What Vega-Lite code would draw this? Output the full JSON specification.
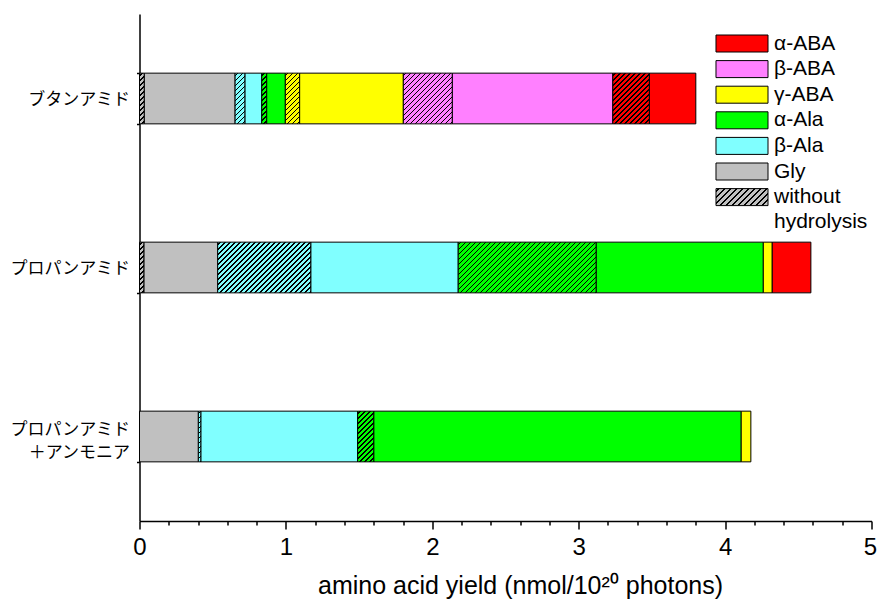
{
  "$schema": "https://vega.github.io/schema/vega-lite/v6.json",
  "width": 732,
  "height": 507,
  "autosize": {"type": "none"},
  "padding": {"left": 139.5, "top": 14, "right": 5.5, "bottom": 80},
  "background": "white",
  "params": [
    {"name": "hs", "value": [
      {"offset":0,"color":"transparent"},
      {"offset":0.010,"color":"transparent"},{"offset":0.010,"color":"#000"},{"offset":0.017,"color":"#000"},{"offset":0.017,"color":"transparent"},
      {"offset":0.035,"color":"transparent"},{"offset":0.035,"color":"#000"},{"offset":0.042,"color":"#000"},{"offset":0.042,"color":"transparent"},
      {"offset":0.060,"color":"transparent"},{"offset":0.060,"color":"#000"},{"offset":0.067,"color":"#000"},{"offset":0.067,"color":"transparent"},
      {"offset":0.085,"color":"transparent"},{"offset":0.085,"color":"#000"},{"offset":0.092,"color":"#000"},{"offset":0.092,"color":"transparent"},
      {"offset":0.110,"color":"transparent"},{"offset":0.110,"color":"#000"},{"offset":0.117,"color":"#000"},{"offset":0.117,"color":"transparent"},
      {"offset":0.135,"color":"transparent"},{"offset":0.135,"color":"#000"},{"offset":0.142,"color":"#000"},{"offset":0.142,"color":"transparent"},
      {"offset":0.160,"color":"transparent"},{"offset":0.160,"color":"#000"},{"offset":0.167,"color":"#000"},{"offset":0.167,"color":"transparent"},
      {"offset":0.185,"color":"transparent"},{"offset":0.185,"color":"#000"},{"offset":0.192,"color":"#000"},{"offset":0.192,"color":"transparent"},
      {"offset":0.210,"color":"transparent"},{"offset":0.210,"color":"#000"},{"offset":0.217,"color":"#000"},{"offset":0.217,"color":"transparent"},
      {"offset":0.235,"color":"transparent"},{"offset":0.235,"color":"#000"},{"offset":0.242,"color":"#000"},{"offset":0.242,"color":"transparent"},
      {"offset":0.260,"color":"transparent"},{"offset":0.260,"color":"#000"},{"offset":0.267,"color":"#000"},{"offset":0.267,"color":"transparent"},
      {"offset":0.285,"color":"transparent"},{"offset":0.285,"color":"#000"},{"offset":0.292,"color":"#000"},{"offset":0.292,"color":"transparent"},
      {"offset":0.310,"color":"transparent"},{"offset":0.310,"color":"#000"},{"offset":0.317,"color":"#000"},{"offset":0.317,"color":"transparent"},
      {"offset":0.335,"color":"transparent"},{"offset":0.335,"color":"#000"},{"offset":0.342,"color":"#000"},{"offset":0.342,"color":"transparent"},
      {"offset":0.360,"color":"transparent"},{"offset":0.360,"color":"#000"},{"offset":0.367,"color":"#000"},{"offset":0.367,"color":"transparent"},
      {"offset":0.385,"color":"transparent"},{"offset":0.385,"color":"#000"},{"offset":0.392,"color":"#000"},{"offset":0.392,"color":"transparent"},
      {"offset":0.410,"color":"transparent"},{"offset":0.410,"color":"#000"},{"offset":0.417,"color":"#000"},{"offset":0.417,"color":"transparent"},
      {"offset":0.435,"color":"transparent"},{"offset":0.435,"color":"#000"},{"offset":0.442,"color":"#000"},{"offset":0.442,"color":"transparent"},
      {"offset":0.460,"color":"transparent"},{"offset":0.460,"color":"#000"},{"offset":0.467,"color":"#000"},{"offset":0.467,"color":"transparent"},
      {"offset":0.485,"color":"transparent"},{"offset":0.485,"color":"#000"},{"offset":0.492,"color":"#000"},{"offset":0.492,"color":"transparent"},
      {"offset":0.510,"color":"transparent"},{"offset":0.510,"color":"#000"},{"offset":0.517,"color":"#000"},{"offset":0.517,"color":"transparent"},
      {"offset":0.535,"color":"transparent"},{"offset":0.535,"color":"#000"},{"offset":0.542,"color":"#000"},{"offset":0.542,"color":"transparent"},
      {"offset":0.560,"color":"transparent"},{"offset":0.560,"color":"#000"},{"offset":0.567,"color":"#000"},{"offset":0.567,"color":"transparent"},
      {"offset":0.585,"color":"transparent"},{"offset":0.585,"color":"#000"},{"offset":0.592,"color":"#000"},{"offset":0.592,"color":"transparent"},
      {"offset":0.610,"color":"transparent"},{"offset":0.610,"color":"#000"},{"offset":0.617,"color":"#000"},{"offset":0.617,"color":"transparent"},
      {"offset":0.635,"color":"transparent"},{"offset":0.635,"color":"#000"},{"offset":0.642,"color":"#000"},{"offset":0.642,"color":"transparent"},
      {"offset":0.660,"color":"transparent"},{"offset":0.660,"color":"#000"},{"offset":0.667,"color":"#000"},{"offset":0.667,"color":"transparent"},
      {"offset":0.685,"color":"transparent"},{"offset":0.685,"color":"#000"},{"offset":0.692,"color":"#000"},{"offset":0.692,"color":"transparent"},
      {"offset":0.710,"color":"transparent"},{"offset":0.710,"color":"#000"},{"offset":0.717,"color":"#000"},{"offset":0.717,"color":"transparent"},
      {"offset":0.735,"color":"transparent"},{"offset":0.735,"color":"#000"},{"offset":0.742,"color":"#000"},{"offset":0.742,"color":"transparent"},
      {"offset":0.760,"color":"transparent"},{"offset":0.760,"color":"#000"},{"offset":0.767,"color":"#000"},{"offset":0.767,"color":"transparent"},
      {"offset":0.785,"color":"transparent"},{"offset":0.785,"color":"#000"},{"offset":0.792,"color":"#000"},{"offset":0.792,"color":"transparent"},
      {"offset":0.810,"color":"transparent"},{"offset":0.810,"color":"#000"},{"offset":0.817,"color":"#000"},{"offset":0.817,"color":"transparent"},
      {"offset":0.835,"color":"transparent"},{"offset":0.835,"color":"#000"},{"offset":0.842,"color":"#000"},{"offset":0.842,"color":"transparent"},
      {"offset":0.860,"color":"transparent"},{"offset":0.860,"color":"#000"},{"offset":0.867,"color":"#000"},{"offset":0.867,"color":"transparent"},
      {"offset":0.885,"color":"transparent"},{"offset":0.885,"color":"#000"},{"offset":0.892,"color":"#000"},{"offset":0.892,"color":"transparent"},
      {"offset":0.910,"color":"transparent"},{"offset":0.910,"color":"#000"},{"offset":0.917,"color":"#000"},{"offset":0.917,"color":"transparent"},
      {"offset":0.935,"color":"transparent"},{"offset":0.935,"color":"#000"},{"offset":0.942,"color":"#000"},{"offset":0.942,"color":"transparent"},
      {"offset":0.960,"color":"transparent"},{"offset":0.960,"color":"#000"},{"offset":0.967,"color":"#000"},{"offset":0.967,"color":"transparent"},
      {"offset":0.985,"color":"transparent"},{"offset":0.985,"color":"#000"},{"offset":0.992,"color":"#000"},{"offset":0.992,"color":"transparent"},
      {"offset":1,"color":"transparent"}
    ]},
    {"name": "hsg", "value": [
      {"offset":0,"color":"#c0c0c0"},
      {"offset":0.030,"color":"#c0c0c0"},{"offset":0.030,"color":"#000"},{"offset":0.049,"color":"#000"},{"offset":0.049,"color":"#c0c0c0"},
      {"offset":0.113,"color":"#c0c0c0"},{"offset":0.113,"color":"#000"},{"offset":0.132,"color":"#000"},{"offset":0.132,"color":"#c0c0c0"},
      {"offset":0.197,"color":"#c0c0c0"},{"offset":0.197,"color":"#000"},{"offset":0.216,"color":"#000"},{"offset":0.216,"color":"#c0c0c0"},
      {"offset":0.280,"color":"#c0c0c0"},{"offset":0.280,"color":"#000"},{"offset":0.299,"color":"#000"},{"offset":0.299,"color":"#c0c0c0"},
      {"offset":0.363,"color":"#c0c0c0"},{"offset":0.363,"color":"#000"},{"offset":0.382,"color":"#000"},{"offset":0.382,"color":"#c0c0c0"},
      {"offset":0.447,"color":"#c0c0c0"},{"offset":0.447,"color":"#000"},{"offset":0.466,"color":"#000"},{"offset":0.466,"color":"#c0c0c0"},
      {"offset":0.530,"color":"#c0c0c0"},{"offset":0.530,"color":"#000"},{"offset":0.549,"color":"#000"},{"offset":0.549,"color":"#c0c0c0"},
      {"offset":0.613,"color":"#c0c0c0"},{"offset":0.613,"color":"#000"},{"offset":0.632,"color":"#000"},{"offset":0.632,"color":"#c0c0c0"},
      {"offset":0.697,"color":"#c0c0c0"},{"offset":0.697,"color":"#000"},{"offset":0.716,"color":"#000"},{"offset":0.716,"color":"#c0c0c0"},
      {"offset":0.780,"color":"#c0c0c0"},{"offset":0.780,"color":"#000"},{"offset":0.799,"color":"#000"},{"offset":0.799,"color":"#c0c0c0"},
      {"offset":0.863,"color":"#c0c0c0"},{"offset":0.863,"color":"#000"},{"offset":0.882,"color":"#000"},{"offset":0.882,"color":"#c0c0c0"},
      {"offset":0.947,"color":"#c0c0c0"},{"offset":0.947,"color":"#000"},{"offset":0.966,"color":"#000"},{"offset":0.966,"color":"#c0c0c0"},
      {"offset":1,"color":"#c0c0c0"}
    ]}
  ],
  "data": {"values": [
    {"sample":"ブタンアミド","amino":"Gly","hyd":"without","value":0.033,"ord":1},
    {"sample":"ブタンアミド","amino":"Gly","hyd":"with","value":0.62,"ord":2},
    {"sample":"ブタンアミド","amino":"β-Ala","hyd":"without","value":0.068,"ord":3},
    {"sample":"ブタンアミド","amino":"β-Ala","hyd":"with","value":0.114,"ord":4},
    {"sample":"ブタンアミド","amino":"α-Ala","hyd":"without","value":0.034,"ord":5},
    {"sample":"ブタンアミド","amino":"α-Ala","hyd":"with","value":0.127,"ord":6},
    {"sample":"ブタンアミド","amino":"γ-ABA","hyd":"without","value":0.098,"ord":7},
    {"sample":"ブタンアミド","amino":"γ-ABA","hyd":"with","value":0.708,"ord":8},
    {"sample":"ブタンアミド","amino":"β-ABA","hyd":"without","value":0.335,"ord":9},
    {"sample":"ブタンアミド","amino":"β-ABA","hyd":"with","value":1.096,"ord":10},
    {"sample":"ブタンアミド","amino":"α-ABA","hyd":"without","value":0.25,"ord":11},
    {"sample":"ブタンアミド","amino":"α-ABA","hyd":"with","value":0.317,"ord":12},
    {"sample":"プロパンアミド","amino":"Gly","hyd":"without","value":0.031,"ord":1},
    {"sample":"プロパンアミド","amino":"Gly","hyd":"with","value":0.503,"ord":2},
    {"sample":"プロパンアミド","amino":"β-Ala","hyd":"without","value":0.637,"ord":3},
    {"sample":"プロパンアミド","amino":"β-Ala","hyd":"with","value":1.006,"ord":4},
    {"sample":"プロパンアミド","amino":"α-Ala","hyd":"without","value":0.943,"ord":5},
    {"sample":"プロパンアミド","amino":"α-Ala","hyd":"with","value":1.141,"ord":6},
    {"sample":"プロパンアミド","amino":"γ-ABA","hyd":"with","value":0.061,"ord":8},
    {"sample":"プロパンアミド","amino":"α-ABA","hyd":"with","value":0.264,"ord":12},
    {"sample":"プロパンアミド＋アンモニア","amino":"Gly","hyd":"with","value":0.402,"ord":2},
    {"sample":"プロパンアミド＋アンモニア","amino":"β-Ala","hyd":"without","value":0.018,"ord":3},
    {"sample":"プロパンアミド＋アンモニア","amino":"β-Ala","hyd":"with","value":1.07,"ord":4},
    {"sample":"プロパンアミド＋アンモニア","amino":"α-Ala","hyd":"without","value":0.111,"ord":5},
    {"sample":"プロパンアミド＋アンモニア","amino":"α-Ala","hyd":"with","value":2.509,"ord":6},
    {"sample":"プロパンアミド＋アンモニア","amino":"γ-ABA","hyd":"with","value":0.066,"ord":8}
  ]},
  "encoding": {
    "y": {
      "field": "sample", "type": "nominal",
      "scale": {"domain": ["ブタンアミド","プロパンアミド","プロパンアミド＋アンモニア"], "paddingInner": 0.7, "paddingOuter": 0.35},
      "axis": {
        "title": null,
        "labelFont": "Noto Sans CJK JP",
        "labelFontSize": 17,
        "labelColor": "black",
        "labelPadding": 7,
        "labelLimit": 300,
        "labelLineHeight": 23,
        "labelExpr": "datum.value === 'プロパンアミド＋アンモニア' ? ['プロパンアミド', '＋アンモニア'] : datum.label",
        "labelOffset": {"condition": {"test": "datum.value === 'プロパンアミド＋アンモニア'", "value": -7}, "value": 1},
        "tickBand": "extent",
        "tickSize": 3,
        "tickColor": "black",
        "tickWidth": 1.5,
        "domainColor": "black",
        "domainWidth": 1.5
      }
    },
    "x": {
      "field": "value", "type": "quantitative", "stack": "zero",
      "scale": {"domain": [0, 5], "nice": false, "zero": true},
      "axis": {
        "title": "amino acid yield (nmol/10²⁰ photons)",
        "titleFont": "Liberation Sans",
        "titleFontSize": 25,
        "titleFontWeight": "normal",
        "titleColor": "black",
        "titlePadding": 14,
        "titleX": 380.5,
        "titleAlign": "center",
        "values": [0,0.2,0.4,0.6,0.8,1,1.2,1.4,1.6,1.8,2,2.2,2.4,2.6,2.8,3,3.2,3.4,3.6,3.8,4,4.2,4.4,4.6,4.8,5],
        "labelExpr": "datum.value % 1 === 0 ? format(datum.value, 'd') : ''",
        "labelOverlap": false,
        "labelFlush": false,
        "labelAlign": {"condition": {"test": "datum.value === 5", "value": "right"}, "value": "center"},
        "labelOffset": {"condition": {"test": "datum.value === 5", "value": 5}, "value": 0},
        "labelFont": "Liberation Sans",
        "labelFontSize": 24,
        "labelColor": "black",
        "labelPadding": 6,
        "tickSize": {"condition": {"test": "datum.value % 1 === 0", "value": 8}, "value": 4},
        "tickColor": "black",
        "tickWidth": 1.5,
        "domainColor": "black",
        "domainWidth": 1.5,
        "grid": false
      }
    },
    "order": {"field": "ord", "type": "quantitative"},
    "detail": [{"field": "amino"}, {"field": "hyd"}]
  },
  "layer": [
    {
      "mark": {"type": "bar", "stroke": "black", "strokeWidth": 1},
      "encoding": {
        "color": {
          "field": "amino", "type": "nominal",
          "scale": {
            "domain": ["α-ABA","β-ABA","γ-ABA","α-Ala","β-Ala","Gly","without hydrolysis"],
            "range": ["#ff0000","#ff80ff","#ffff00","#00ff00","#80ffff","#c0c0c0",{"expr": "{gradient:'linear',x1:0,y1:0,x2:1.251,y2:0.409,stops:hsg}"}]
          },
          "legend": {
            "title": null,
            "orient": "none",
            "legendX": 592,
            "legendY": 19,
            "symbolType": "M-3.06,-1H3.06V1H-3.06Z",
            "symbolSize": 289,
            "symbolStrokeColor": "black",
            "symbolStrokeWidth": 1,
            "symbolOpacity": 1,
            "labelFont": "Liberation Sans",
            "labelFontSize": 21,
            "labelColor": "black",
            "labelOffset": 21.5,
            "labelLimit": 300,
            "rowPadding": 3.6,
            "labelExpr": "datum.value === 'without hydrolysis' ? ['without', '\u00a0hydrolysis'] : datum.label",
            "encode": {
              "symbols": {
                "update": {
                  "stroke": {"value": "black"},
                  "strokeWidth": {"value": 1}
                }
              },
              "labels": {
                "update": {
                  "lineHeight": {"value": 25}
                }
              }
            }
          }
        }
      }
    },
    {
      "mark": {
        "type": "bar",
        "strokeWidth": 0,
        "fill": {"expr": "datum.hyd === 'without' ? {gradient:'linear',x1:0,y1:0,x2:200*abs(scale('x',datum.value_end)-scale('x',datum.value_start))/(pow(scale('x',datum.value_end)-scale('x',datum.value_start),2)+pow(bandwidth('y'),2)),y2:200*bandwidth('y')/(pow(scale('x',datum.value_end)-scale('x',datum.value_start),2)+pow(bandwidth('y'),2)),stops:hs} : 'transparent'"}
      }
    }
  ],
  "config": {"view": {"stroke": null}}
}
